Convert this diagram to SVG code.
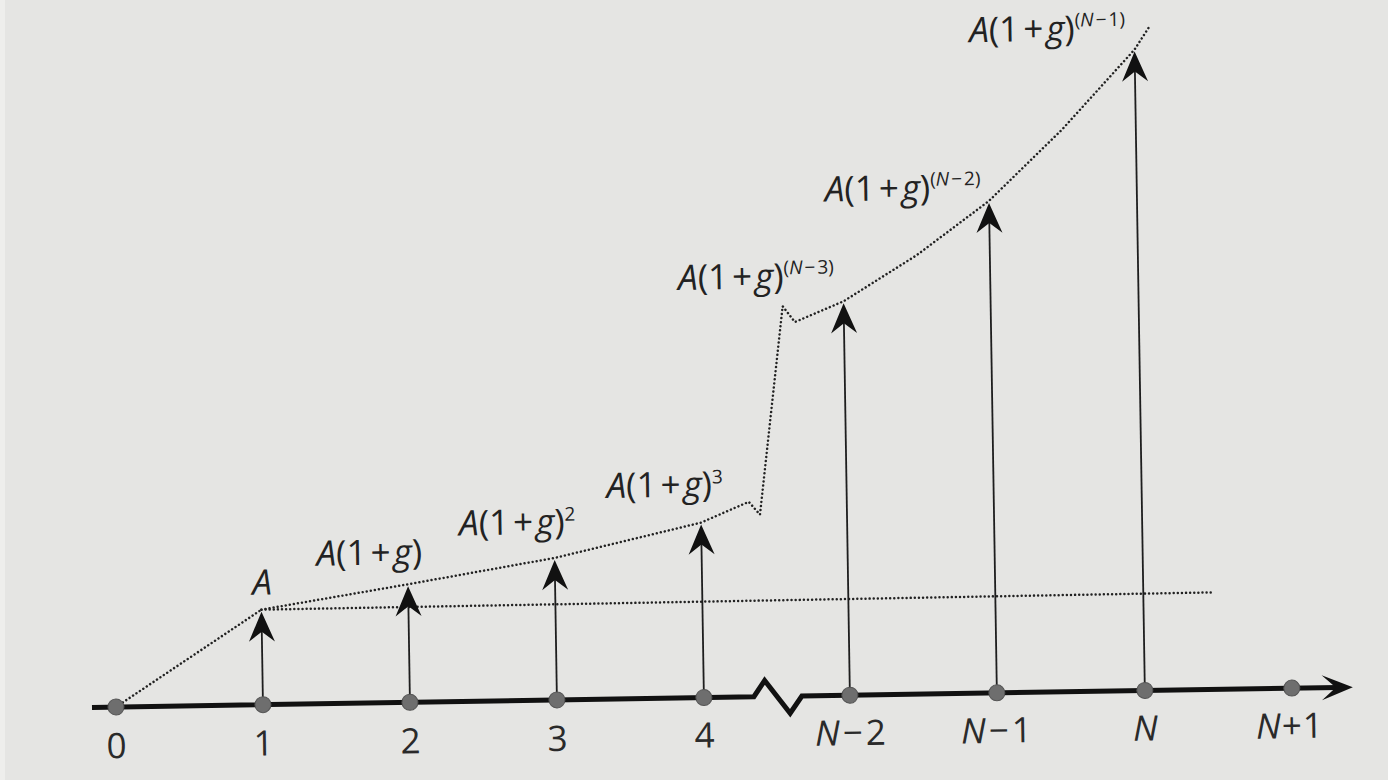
<svg xmlns="http://www.w3.org/2000/svg" width="1388" height="780" viewBox="0 0 1388 780">
<style>
.lbl{font-family:"Open Sans","Noto Sans","Liberation Sans",sans-serif;font-size:35px;fill:#222}
.tick{font-family:"Open Sans","Noto Sans","Liberation Sans",sans-serif;font-size:35px;fill:#2a2a2a;text-anchor:middle}
.i{font-style:italic}
.sup{font-size:19px}
.dot{fill:#6e6e6e;stroke:#555;stroke-width:1}
.shaft{stroke:#1e1e1e;stroke-width:1.8;fill:none}
.dotted{fill:none;stroke:#222;stroke-width:2.5;stroke-dasharray:0.01 4.1;stroke-linecap:round;stroke-linejoin:round}
.axis{fill:none;stroke:#111;stroke-width:5;stroke-linejoin:miter}
.head{fill:#111}
</style>
<defs>
<path id="ah" class="head" d="M0,0 L-13,30 L0,20 L13,30 Z"/>
</defs>
<rect x="0" y="0" width="1388" height="780" fill="#e5e5e3"/>
<rect x="0" y="0" width="5" height="780" fill="#eeeeec"/>
<g id="diagram" transform="rotate(-0.92 116 708)">
<g id="connectors">
<path class="axis" d="M92,707 L754,707 L765,691 L790,724 L802,707 L1338,707"/>
<path class="head" d="M1353,707 L1322,694.5 L1336,707 L1322,719.5 Z"/>
<path class="dotted" d="M116,707 L263,612"/>
<path class="dotted" d="M263,612 L1214,610"/>
<path class="dotted" d="M263,612 L410,589 L557,565 L704,532 L752,512 L763,525 L789,317 L801,333 L850,313 L924,268 L997,215 L1071,145 L1145,66 L1161,42"/>
</g>
<g id="t0"><circle class="dot" cx="116" cy="707" r="8"/><text class="tick" x="116" y="758">0</text></g>
<g id="t1"><line class="shaft" x1="263" y1="707" x2="263" y2="630"/><use href="#ah" x="263" y="614"/><circle class="dot" cx="263" cy="707" r="8"/><text class="tick" x="263" y="758">1</text><text class="lbl" x="264" y="597" text-anchor="middle"><tspan class="i">A</tspan></text></g>
<g id="t2"><line class="shaft" x1="410" y1="707" x2="410" y2="607"/><use href="#ah" x="410" y="591"/><circle class="dot" cx="410" cy="707" r="8"/><text class="tick" x="410" y="758">2</text><text class="lbl" x="319" y="569"><tspan class="i">A</tspan>(1<tspan dx="4">+</tspan><tspan class="i" dx="3">g</tspan>)</text></g>
<g id="t3"><line class="shaft" x1="557" y1="707" x2="557" y2="583"/><use href="#ah" x="557" y="567"/><circle class="dot" cx="557" cy="707" r="8"/><text class="tick" x="557" y="758">3</text><text class="lbl" x="462" y="541"><tspan class="i">A</tspan>(1<tspan dx="4">+</tspan><tspan class="i" dx="3">g</tspan>)<tspan class="sup" dy="-13">2</tspan></text></g>
<g id="t4"><line class="shaft" x1="704" y1="707" x2="704" y2="550"/><use href="#ah" x="704" y="534"/><circle class="dot" cx="704" cy="707" r="8"/><text class="tick" x="704" y="757">4</text><text class="lbl" x="610" y="506"><tspan class="i">A</tspan>(1<tspan dx="4">+</tspan><tspan class="i" dx="3">g</tspan>)<tspan class="sup" dy="-13">3</tspan></text></g>
<g id="tN-2"><line class="shaft" x1="850" y1="707" x2="850" y2="331"/><use href="#ah" x="850" y="315"/><circle class="dot" cx="850" cy="707" r="8"/><text class="tick" x="850" y="757"><tspan class="i">N</tspan><tspan dx="3">−</tspan><tspan dx="3">2</tspan></text><text class="lbl" x="685" y="299"><tspan class="i">A</tspan>(1<tspan dx="4">+</tspan><tspan class="i" dx="3">g</tspan>)<tspan class="sup" dy="-14">(<tspan class="i">N</tspan><tspan dx="2">−</tspan><tspan dx="2">3</tspan>)</tspan></text></g>
<g id="tN-1"><line class="shaft" x1="997" y1="707" x2="997" y2="233"/><use href="#ah" x="997" y="217"/><circle class="dot" cx="997" cy="707" r="8"/><text class="tick" x="996" y="757"><tspan class="i">N</tspan><tspan dx="3">−</tspan><tspan dx="3">1</tspan></text><text class="lbl" x="833" y="213"><tspan class="i">A</tspan>(1<tspan dx="4">+</tspan><tspan class="i" dx="3">g</tspan>)<tspan class="sup" dy="-14">(<tspan class="i">N</tspan><tspan dx="2">−</tspan><tspan dx="2">2</tspan>)</tspan></text></g>
<g id="tN"><line class="shaft" x1="1145" y1="707" x2="1145" y2="84"/><use href="#ah" x="1145" y="68"/><circle class="dot" cx="1145" cy="707" r="8"/><text class="tick" x="1145" y="757"><tspan class="i">N</tspan></text><text class="lbl" x="980" y="56"><tspan class="i">A</tspan>(1<tspan dx="4">+</tspan><tspan class="i" dx="3">g</tspan>)<tspan class="sup" dy="-14">(<tspan class="i">N</tspan><tspan dx="2">−</tspan><tspan dx="2">1</tspan>)</tspan></text></g>
<g id="tN+1"><circle class="dot" cx="1292" cy="707" r="8"/><text class="tick" x="1289" y="757"><tspan class="i">N</tspan><tspan dx="1">+</tspan><tspan dx="1">1</tspan></text></g>
</g>
</svg>
